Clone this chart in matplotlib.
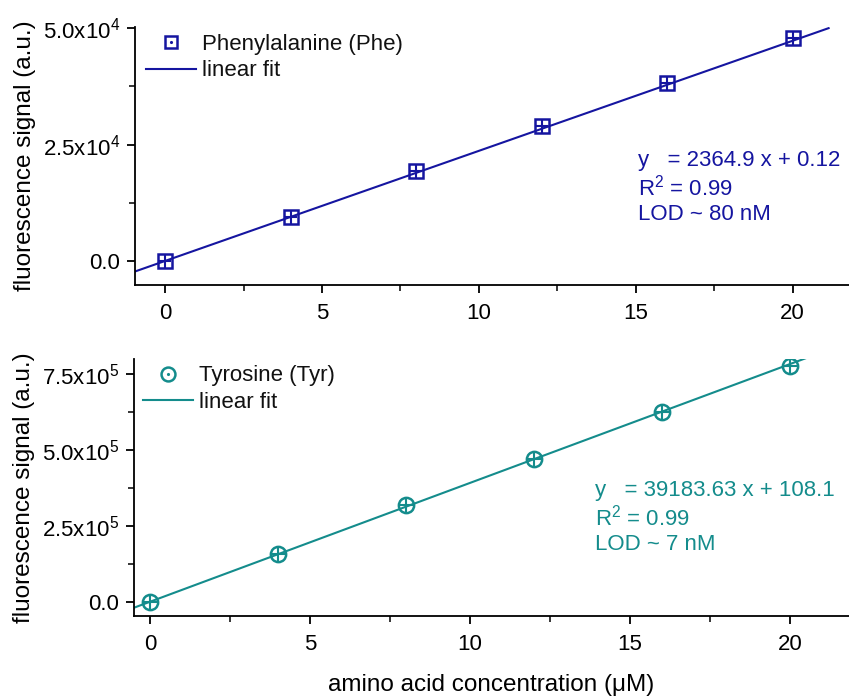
import matplotlib
matplotlib.use("Agg")
import matplotlib.pyplot as plt
from matplotlib.lines import Line2D
import numpy as np

plt.rcParams['font.family'] = ['Liberation Sans', 'DejaVu Sans']
plt.rcParams['mathtext.fontset'] = 'custom'
plt.rcParams['mathtext.rm'] = 'Liberation Sans'
plt.rcParams['mathtext.it'] = 'Liberation Sans'

# concentrations (uM)
conc = [0, 4, 8, 12, 16, 20]

# Phenylalanine signal
phe_signal = [0, 9450, 19300, 28900, 38200, 47900]
phe_xerr = 0.2
phe_yerr = 1500
phe_slope, phe_icpt = 2364.9, 0.12

# Tyrosine signal
tyr_signal = [0, 158000, 320000, 472000, 624000, 778000]
tyr_xerr = 0.2
tyr_yerr = 23000
tyr_slope, tyr_icpt = 39183.63, 108.1

phe_color = "#1515a0"
tyr_color = "#148c8c"

phe_yticks = [0, 25000, 50000]
phe_yticklabels = ["0.0", r"2.5x10$^{4}$", r"5.0x10$^{4}$"]
tyr_yticks = [0, 250000, 500000, 750000]
tyr_yticklabels = ["0.0", r"2.5x10$^{5}$", r"5.0x10$^{5}$", r"7.5x10$^{5}$"]

FS = 16
LABEL_FS = 17.5


def style_axis(ax, yticks, yticklabels, minor_y):
    for side in ["top", "right"]:
        ax.spines[side].set_visible(False)
    for side in ["left", "bottom"]:
        ax.spines[side].set_linewidth(1.3)
    ax.set_xticks([0, 5, 10, 15, 20])
    ax.set_xticks([2.5, 7.5, 12.5, 17.5], minor=True)
    ax.set_yticks(yticks)
    ax.set_yticklabels(yticklabels)
    ax.set_yticks(minor_y, minor=True)
    ax.tick_params(which="major", direction="out", length=6, width=1.3,
                   labelsize=FS, pad=5)
    ax.tick_params(axis="x", which="major", pad=7)
    ax.tick_params(which="minor", direction="out", length=4, width=1.1)
    ax.set_ylabel("fluorescence signal (a.u.)", fontsize=LABEL_FS,
                  labelpad=5)


def panel(ax, y, xerr, yerr, slope, icpt, color, marker, ms, fit_end,
          label, eq_lines, eq_pos, leg_anchor):
    x0, _ = ax.get_xlim()
    fx = np.array([x0, fit_end])
    ax.plot(fx, slope * fx + icpt, color=color, lw=1.5, zorder=2)
    ax.errorbar(conc, y, xerr=xerr, yerr=yerr, fmt=marker, ms=ms,
                mfc="none", mec=color, mew=1.8, ecolor=color,
                elinewidth=1.5, capsize=0, zorder=3)
    h_mark = (Line2D([], [], marker=marker, ms=ms - 1, mfc="none",
                     mec=color, mew=1.8, ls="none"),
              Line2D([], [], marker=".", ms=2.5, color=color, ls="none"))
    h_line = Line2D([], [], color=color, lw=1.5)
    ax.legend([h_mark, h_line], [label, "linear fit"], loc="upper left",
              bbox_to_anchor=leg_anchor, frameon=False, fontsize=FS,
              handlelength=2.25, handletextpad=0.3, labelspacing=0.25,
              labelcolor="#111111")
    ax.text(eq_pos[0], eq_pos[1], "\n".join(eq_lines), transform=ax.transAxes,
            color=color, fontsize=FS, va="top", ha="left", linespacing=1.2)


fig = plt.figure(figsize=(8.49, 7.0), dpi=100)
ax1 = fig.add_axes([0.159, 0.593, 0.841, 0.368])
ax2 = fig.add_axes([0.158, 0.12, 0.842, 0.367])

ax1.set_xlim(-0.96, 21.8)
ax1.set_ylim(-5150, 50200)
style_axis(ax1, phe_yticks, phe_yticklabels, [12500, 37500])
panel(ax1, phe_signal, phe_xerr, phe_yerr, phe_slope, phe_icpt, phe_color,
      "s", 10, 21.15, "Phenylalanine (Phe)",
      ["y   = 2364.9 x + 0.12", "R$^{2}$ = 0.99", "LOD ~ 80 nM"],
      (0.705, 0.525), (-0.013, 1.052))

ax2.set_xlim(-0.5, 21.84)
ax2.set_ylim(-47000, 800000)
style_axis(ax2, tyr_yticks, tyr_yticklabels, [125000, 375000, 625000])
panel(ax2, tyr_signal, tyr_xerr, tyr_yerr, tyr_slope, tyr_icpt, tyr_color,
      "o", 11, 20.5, "Tyrosine (Tyr)",
      ["y   = 39183.63 x + 108.1", "R$^{2}$ = 0.99", "LOD ~ 7 nM"],
      (0.645, 0.53), (-0.016, 1.053))
ax2.set_xlabel("amino acid concentration (μM)", fontsize=LABEL_FS,
               labelpad=14)

fig.savefig("out.png", dpi=100)
